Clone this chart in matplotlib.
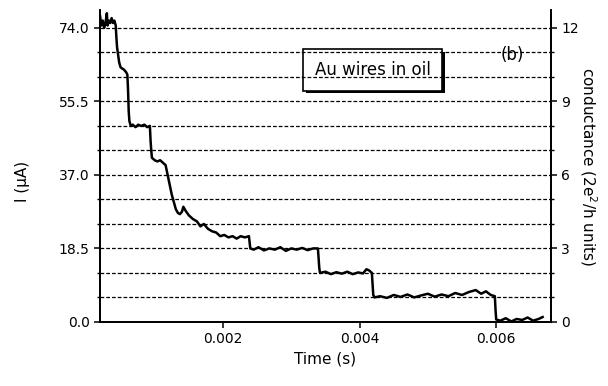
#!/usr/bin/env python3
import matplotlib
matplotlib.use("Agg")
import matplotlib.pyplot as plt
import matplotlib.patheffects as pe
from matplotlib.ticker import MultipleLocator, FormatStrFormatter

# --- data: conductance trace (t in s, G in 2e^2/h) ---
time_s = [
    0.00020, 0.00022, 0.00024, 0.00026, 0.00028, 0.00030, 0.00031, 0.00033,
    0.00035, 0.00037, 0.00039, 0.00041, 0.00043,
    0.00044, 0.00045, 0.00046, 0.00048, 0.00050, 0.00052, 0.00055, 0.00058, 0.00060,
    0.00061, 0.00062, 0.00063, 0.00065, 0.00068, 0.00072, 0.00076, 0.00080,
    0.00085, 0.00089, 0.00093,
    0.00094, 0.00095, 0.00096, 0.00100, 0.00104, 0.00108, 0.00112, 0.00116,
    0.00119, 0.00122, 0.00125, 0.00128, 0.00131, 0.00134, 0.00137,
    0.00140, 0.00142, 0.00145, 0.00150, 0.00156, 0.00162, 0.00167, 0.00172,
    0.00178, 0.00184, 0.00190, 0.00196, 0.00202, 0.00208, 0.00214, 0.00220,
    0.00226, 0.00232, 0.00238,
    0.00240, 0.00245, 0.00252, 0.00260, 0.00268, 0.00276, 0.00284, 0.00292,
    0.00300, 0.00308, 0.00316, 0.00324, 0.00332, 0.00339,
    0.00340, 0.00341, 0.00342, 0.00350, 0.00358, 0.00366, 0.00374, 0.00382,
    0.00390, 0.00398, 0.00405, 0.00410, 0.00414, 0.00418,
    0.00420, 0.00422, 0.00430, 0.00440, 0.00450, 0.00460, 0.00470, 0.00480,
    0.00490, 0.00500, 0.00510, 0.00520, 0.00530, 0.00540, 0.00550, 0.00560,
    0.00570, 0.00578, 0.00585, 0.00592, 0.00598,
    0.00599, 0.00600, 0.00606, 0.00614, 0.00622, 0.00630, 0.00638, 0.00646,
    0.00654, 0.00662, 0.00668,
]
conductance = [
    12.5, 12.1, 12.3, 12.0, 12.2, 12.6, 12.1, 12.3,
    12.2, 12.4, 12.2, 12.3, 12.1,
    11.6, 11.2, 11.0, 10.6, 10.4, 10.35, 10.3, 10.2, 10.1,
    9.5, 8.6, 8.2, 8.0, 8.05, 7.95, 8.05, 8.0,
    8.05, 7.95, 8.0,
    7.4, 7.0, 6.7, 6.6, 6.55, 6.6, 6.5, 6.4,
    6.0, 5.6, 5.2, 4.9, 4.6, 4.45, 4.4,
    4.5, 4.7, 4.55, 4.35, 4.2, 4.1, 3.9, 4.0,
    3.8, 3.7, 3.65, 3.5, 3.55, 3.45, 3.5, 3.4,
    3.5, 3.45, 3.5,
    3.0, 2.95, 3.05, 2.92, 3.0, 2.95, 3.05, 2.9,
    3.0, 2.95, 3.02, 2.93, 3.0, 3.0,
    2.6, 2.2, 2.0, 2.05, 1.95, 2.03, 1.97, 2.05,
    1.95, 2.02, 1.98, 2.15, 2.1, 2.0,
    1.1, 1.0, 1.05, 0.98, 1.1, 1.02, 1.12, 1.0,
    1.08, 1.15, 1.03, 1.12, 1.05, 1.18, 1.1, 1.22,
    1.3, 1.15, 1.25, 1.1, 1.05,
    0.5, 0.1, 0.05, 0.15, 0.02, 0.12, 0.08, 0.18,
    0.05, 0.12, 0.2,
]

current_ticks = [0.0, 18.5, 37.0, 55.5, 74.0]   # uA
g_ticks = [0, 3, 6, 9, 12]
time_ticks = [0.002, 0.004, 0.006]
plateau_levels = list(range(1, 13))

UA_PER_G = 74.0 / 12
G_TOP = 12.73


def main():
    fig = plt.figure(figsize=(6.08, 3.86), dpi=100)
    ax = fig.add_axes([0.1645, 0.166, 0.7415, 0.808])
    ax2 = ax.twinx()

    # left axis in current
    ax.set_xlim(0.0002, 0.0068)
    ax.set_ylim(0, G_TOP * UA_PER_G)
    ax.set_yticks(current_ticks)
    ax.yaxis.set_major_formatter(FormatStrFormatter('%.1f'))
    ax.yaxis.set_minor_locator(MultipleLocator(UA_PER_G))
    ax.set_xticks(time_ticks)
    ax.set_xticklabels(['0.002', '0.004', '0.006'])

    # right axis in conductance
    ax2.set_ylim(0, G_TOP)
    ax2.set_yticks(g_ticks)
    ax2.yaxis.set_minor_locator(MultipleLocator(1))

    for a in (ax, ax2):
        a.spines['top'].set_visible(False)
        for s in a.spines.values():
            s.set_linewidth(1.3)
        a.tick_params(which='major', direction='out', length=4, width=1.1, labelsize=10)
        a.tick_params(which='minor', direction='out', length=2.5, width=1.0)

    # quantised levels
    for g in plateau_levels:
        ax2.axhline(g, color='black', lw=0.9, ls=(0, (3, 1.6)), zorder=1)

    ax2.plot(time_s, conductance, color='black', lw=1.8, zorder=3)

    txt = ax.text(0.605, 0.808, 'Au wires in oil', transform=ax.transAxes,
                  ha='center', va='center', fontsize=12, zorder=5,
                  bbox=dict(boxstyle='square,pad=0.7', fc='white', ec='black', lw=1.2))
    txt.get_bbox_patch().set_path_effects([
        pe.withSimplePatchShadow(offset=(2, -2), shadow_rgbFace='black', alpha=1.0)])
    ax.text(0.914, 0.856, '(b)', transform=ax.transAxes, ha='center', va='center',
            fontsize=12)

    ax.set_xlabel('Time (s)', fontsize=11)
    ax.set_ylabel('I (\u03bcA)', fontsize=11)
    ax2.set_ylabel('conductance (2e$^2$/h units)', fontsize=11, rotation=-90, labelpad=14)
    ax.yaxis.set_label_coords(-0.155, 0.45)

    fig.savefig('out.png', dpi=100)


if __name__ == '__main__':
    main()
